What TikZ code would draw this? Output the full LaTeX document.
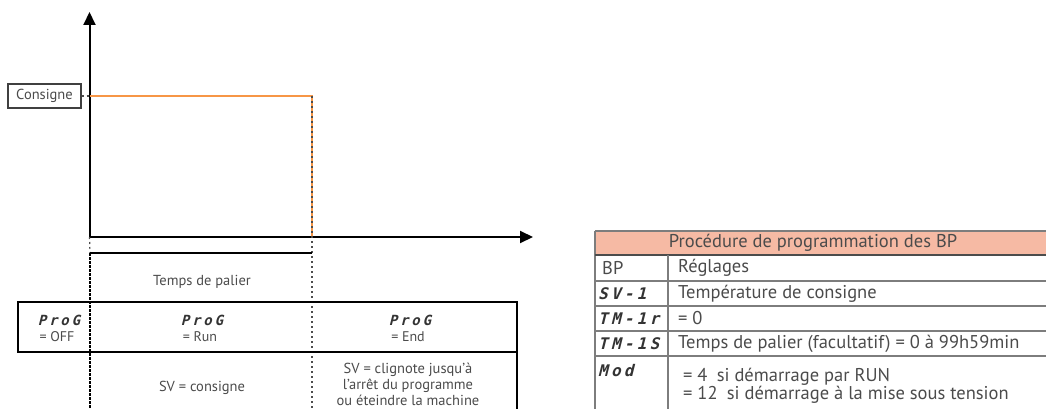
\documentclass[tikz,border=0pt]{standalone}
\usepackage{fontspec}
\setmainfont{PT Sans}
\newfontfamily\segfont[FakeSlant=0.25,LetterSpace=20]{DejaVu Sans Mono}
\usetikzlibrary{arrows.meta}
\definecolor{txtgray}{RGB}{75,75,75}
\definecolor{ramp}{RGB}{247,150,70}
\definecolor{headfill}{RGB}{246,186,164}
\definecolor{rulegray}{RGB}{125,125,125}
\tikzstyle{axis} = [line width=2pt, -{Triangle[length=13pt,width=12pt]}]
\tikzstyle{guide} = [draw=black!70, line width=1.2pt, dash pattern=on 2pt off 3pt]
\tikzstyle{lbl} = [text=txtgray, font=\fontsize{14.5}{16}\selectfont, inner sep=0pt]
\tikzstyle{small} = [text=txtgray, font=\fontsize{14}{15}\selectfont, inner sep=0pt]
\tikzstyle{seg} = [text=black!80, font=\segfont\bfseries\fontsize{14}{15}\selectfont, inner sep=0pt]
\tikzstyle{segcell} = [text=black!80, font=\segfont\bfseries\fontsize{16}{17}\selectfont, inner sep=0pt, anchor=west]
\tikzstyle{cell} = [text=txtgray, font=\fontsize{18.5}{20}\selectfont, inner sep=0pt, anchor=west]
\tikzstyle{grid} = [draw=rulegray, line width=1.5pt]

\begin{document}
\begin{tikzpicture}[x=1pt,y=-1pt]
    \useasboundingbox (0,0) rectangle (1046,409);
    % axes
    \coordinate (O) at (89.5,237);
    \coordinate (ytop) at (89.5,12);
    \coordinate (xend) at (533,237);
    \draw[axis] (O) -- (ytop);
    \draw[axis] (O) -- (xend);
    % set point curve
    \node[draw=black!75, line width=1.2pt, lbl, minimum width=73pt, minimum height=24pt](consigne) at (44.5,96){Consigne};
    \coordinate (c0) at (89.5,96);
    \coordinate (c1) at (312,96);
    \coordinate (c2) at (312,237);
    \coordinate (c3) at (312,409);
    \draw[guide] (consigne.east) -- (c0);
    \draw[ramp, line width=2pt] (c0) -- (c1) -- (c2);
    \draw[guide] (c1) -- (c3);
    % soak bracket
    \coordinate (b0) at (90,253);
    \coordinate (b1) at (312,253);
    \coordinate (b2) at (90,409);
    \draw[guide] (O) -- (b0);
    \draw[line width=1.5pt] (b1) -- (b0);
    \draw[line width=1.5pt, dash pattern=on 3pt off 1pt] (b0) -- (b2);
    \node[lbl](palier) at (202,282){Temps de palier};
    % state box
    \draw[line width=1.5pt] (18,302) rectangle (517,352);
    \coordinate (r0) at (517,352);
    \coordinate (r1) at (517,409);
    \draw[line width=1.5pt] (r0) -- (r1);
    \node[seg](off) at (59,320){ProG};
    \node[small](offv) at (57,337){= OFF};
    \node[seg](run) at (202,320){ProG};
    \node[small](runv) at (200,337){= Run};
    \node[seg](end) at (410,320){ProG};
    \node[small](endv) at (408,337){= End};
    \node[lbl](svrun) at (202,388){SV = consigne};
    \node[lbl, align=center, font=\fontsize{14.5}{16}\selectfont](svend) at (408,384){SV = clignote jusqu'à\\l'arrêt du programme\\ou éteindre la machine};
    % table
    \fill[headfill] (595,231) rectangle (1046,255);
    \draw[grid] (595,231) -- (1046,231);
    \draw[grid] (595,231) -- (595,409);
    \draw[draw=black!70, line width=1.8pt] (595,255) -- (1046,255);
    \foreach \y in {281,306,331,356}
        \draw[grid] (595,\y) -- (1046,\y);
    \draw[grid] (668,255) -- (668,409);
    \node[cell, anchor=center](title) at (813,243){Procédure de programmation des BP};
    \node[cell](bp) at (602,268){BP};
    \node[cell](regl) at (678,268){Réglages};
    \node[segcell](sv) at (598,293.5){SV-1};
    \node[segcell](tmr) at (598,318.5){TM-1r};
    \node[segcell](tms) at (598,343.5){TM-1S};
    \node[segcell](mod) at (598,371){Mod};
    \node[cell](sv1) at (678,293.5){Température de consigne};
    \node[cell](tmr1) at (678,318.5){= 0};
    \node[cell](tms1) at (678,343.5){Temps de palier (facultatif) = 0 à 99h59min};
    \node[cell](mod1) at (683,377){= 4\enspace si démarrage par RUN};
    \node[cell](mod2) at (683,395){= 12\enspace si démarrage à la mise sous tension};
\end{tikzpicture}
\end{document}
